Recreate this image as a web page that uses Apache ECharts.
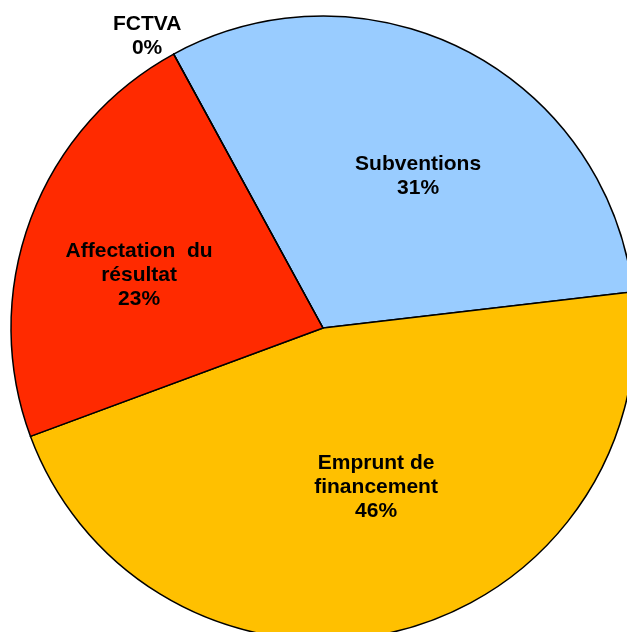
<!DOCTYPE html>
<html>
<head>
<meta charset="utf-8">
<script src="https://cdn.jsdelivr.net/npm/echarts@6/dist/echarts.min.js"></script>
<style>
	html, body { margin: 0; padding: 0; background: #fff; }
	#pie { width: 627px; height: 632px; }
</style>
</head>
<body>
<div id="pie"></div>
<script>
// parts du financement (en %)
const labels = ["Subventions", "Emprunt de\nfinancement", "Affectation  du\nrésultat", "FCTVA"]
const values = [31.1, 46.2, 22.7, 0]
const colors = ["#99ccff", "#ffc000", "#ff2a00", "#ff2a00"]
// petits décalages des étiquettes (px)
const labelShift = [[22, -11], [16, 5], [-35, 3], [-11, 1]]

const chart = echarts.init(document.getElementById("pie"))

let data = []
for (let i = 0; i < labels.length; i++) {
	let item = {
		name: labels[i],
		value: values[i],
		itemStyle: { color: colors[i] }
	}
	if (values[i] === 0) {
		// FCTVA : étiquette à l'extérieur
		item.label = { position: "outside" }
		item.labelLine = { show: false, length: 22, length2: 0 }
	}
	data.push(item)
}

chart.setOption({
	backgroundColor: "#fff",
	animation: false,
	series: [
		{
			type: "pie",
			center: [323, 328],
			radius: 312,
			startAngle: 118.6,
			clockwise: true,
			avoidLabelOverlap: false,
			stillShowZeroSum: true,
			minShowLabelAngle: 0,
			itemStyle: {
				borderColor: "#000",
				borderWidth: 1.5
			},
			label: {
				show: true,
				position: "inside",
				formatter: p => p.name + "\n" + Math.round(p.percent) + "%",
				color: "#000",
				fontFamily: "Liberation Sans, Arial, sans-serif",
				fontWeight: "bold",
				fontSize: 21,
				lineHeight: 24
			},
			labelLine: { show: false },
			labelLayout: p => ({
				dx: labelShift[p.dataIndex][0],
				dy: labelShift[p.dataIndex][1],
				align: "center"
			}),
			emphasis: { disabled: true },
			data: data
		}
	]
})
</script>
</body>
</html>
